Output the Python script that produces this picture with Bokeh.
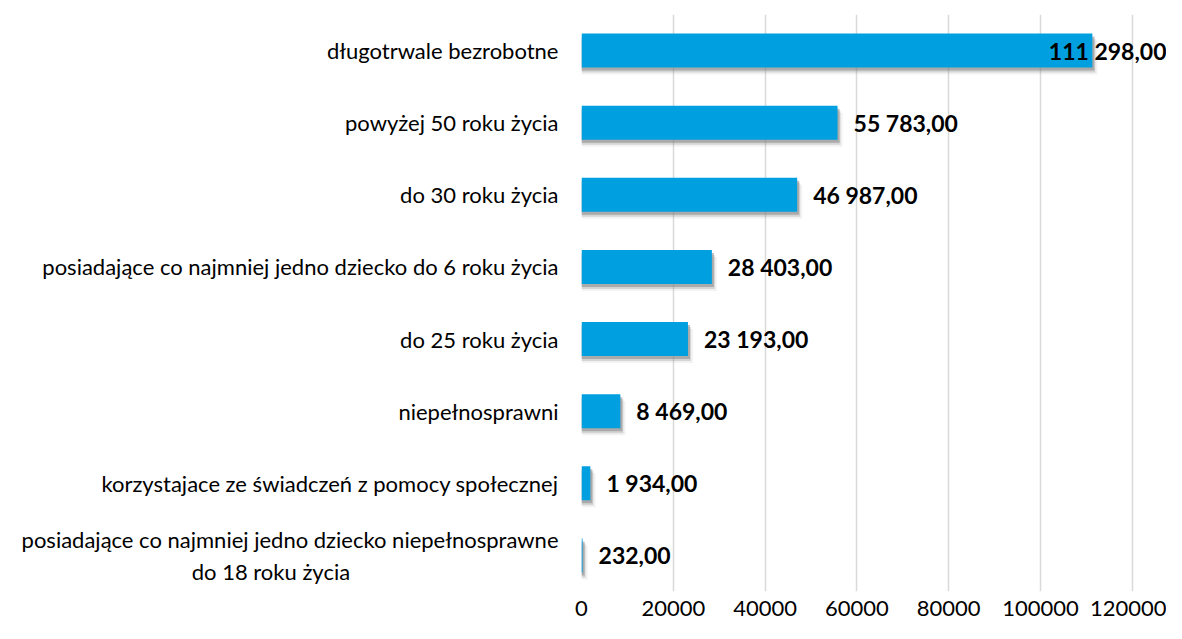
from bokeh.plotting import figure
from bokeh.models import Range1d, FixedTicker, ColumnDataSource
from bokeh.core.properties import value
from bokeh.embed import file_html
from bokeh.resources import INLINE

categories = [
    "długotrwale bezrobotne",
    "powyżej 50 roku życia",
    "do 30 roku życia",
    "posiadające co najmniej jedno dziecko do 6 roku życia",
    "do 25 roku życia",
    "niepełnosprawni",
    "korzystajace ze świadczeń z pomocy społecznej",
    "posiadające co najmniej jedno dziecko niepełnosprawne\ndo 18 roku życia",
]
values = [111298, 55783, 46987, 28403, 23193, 8469, 1934, 232]
value_labels = ["111 298,00", "55 783,00", "46 987,00", "28 403,00",
                "23 193,00", "8 469,00", "1 934,00", "232,00"]
x_ticks = [0, 20000, 40000, 60000, 80000, 100000, 120000]

# layout (style)
W, H = 1166, 623
B_LEFT, B_RIGHT, B_TOP, B_BOTTOM = 581, 0, 14, 32
PX_PER_UNIT = 91.8 / 20000.0
frame_w = W - B_LEFT - B_RIGHT
frame_h = H - B_TOP - B_BOTTOM
x_end = frame_w / PX_PER_UNIT
n = len(categories)
unit_per_px_y = n / frame_h
BAR_H = 34 * unit_per_px_y
LABEL_GAP_PX = 16
FONT = "Lato"
BAR_COLOR = "#009FE0"
CENTER_PAD = 37  # non-breaking spaces used to centre continuation lines

ys = [i + 0.5 for i in range(n)]


def tick_text(cat):
    lines = cat.split("\n")
    return "\n".join([lines[0]] + [l + "\u00a0" * CENTER_PAD for l in lines[1:]])


p = figure(width=W, height=H, output_backend="svg", toolbar_location=None,
           x_range=Range1d(0, x_end), y_range=Range1d(n, 0),
           min_border_left=B_LEFT, min_border_right=B_RIGHT,
           min_border_top=B_TOP, min_border_bottom=B_BOTTOM)
p.outline_line_color = None
p.background_fill_color = "white"

src = ColumnDataSource(dict(y=ys, x=values, lab=value_labels))

# soft shadow layers
shx = [2, 3, 5]
shy = [3, 5, 7]
sha = [0.5, 0.25, 0.1]
for dx, dy, a in zip(shx, shy, sha):
    p.hbar(y=[v + dy * unit_per_px_y for v in ys], left=0,
           right=[v + dx / PX_PER_UNIT for v in values], height=BAR_H,
           fill_color="#7f7f7f", fill_alpha=a, line_color=None)

p.hbar(y="y", left=0, right="x", height=BAR_H, source=src,
       fill_color=BAR_COLOR, line_color=None)

# value labels (clamped to right edge if overflow)
xs_lab, align_lab, off_lab = [], [], []
approx_w = 120 / PX_PER_UNIT
for v in values:
    if v + LABEL_GAP_PX / PX_PER_UNIT + approx_w > x_end:
        xs_lab.append(x_end); align_lab.append("right"); off_lab.append(0)
    else:
        xs_lab.append(v); align_lab.append("left"); off_lab.append(LABEL_GAP_PX)
lsrc = ColumnDataSource(dict(x=xs_lab, y=ys, t=value_labels, a=align_lab, o=off_lab))
p.text(x="x", y="y", text="t", source=lsrc, text_align="a", x_offset="o",
       text_baseline="middle", text_font=value(FONT), text_font_style="bold",
       text_font_size="23px", text_color="#000000")

# axes
p.xaxis.ticker = FixedTicker(ticks=x_ticks)
p.xaxis.major_label_overrides = {t: str(t) for t in x_ticks}
p.xaxis.axis_line_color = None
p.xaxis.major_tick_line_color = None
p.xaxis.minor_tick_line_color = None
p.xaxis.major_tick_out = 0
p.xaxis.major_label_text_font = FONT
p.xaxis.major_label_text_font_size = "22px"
p.xaxis.major_label_text_color = "#000000"
p.xaxis.major_label_standoff = 9

p.yaxis.ticker = FixedTicker(ticks=ys)
p.yaxis.major_label_overrides = {y: tick_text(c) for y, c in zip(ys, categories)}
p.yaxis.axis_line_color = None
p.yaxis.major_tick_line_color = None
p.yaxis.minor_tick_line_color = None
p.yaxis.major_tick_out = 0
p.yaxis.major_label_text_font = FONT
p.yaxis.major_label_text_font_size = "22px"
p.yaxis.major_label_text_color = "#000000"
p.yaxis.major_label_standoff = 23

p.xgrid.ticker = FixedTicker(ticks=x_ticks)
p.xgrid.grid_line_color = "#d9d9d9"
p.xgrid.grid_line_width = 1.5
p.ygrid.grid_line_color = None

open("out.html", "w").write(file_html(p, INLINE))
